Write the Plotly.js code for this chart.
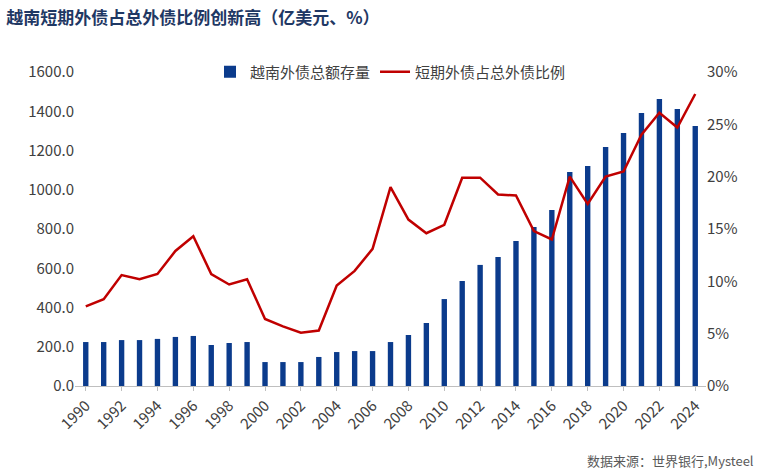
<!DOCTYPE html>
<html><head><meta charset="utf-8">
<script src="https://cdn.plot.ly/plotly-3.0.1.min.js"></script>
<style>body{margin:0}</style></head>
<body><div id="chart" style="width:768px;height:472px"></div>
<script>
// data
var years = [];
for (var y = 1990; y <= 2024; y++) years.push(y);
var debtTotal = [224, 224, 234, 234, 240, 250, 255, 209, 219, 224,
  122, 122, 122, 148, 173, 178, 178, 224, 260, 321,
  443, 535, 617, 657, 739, 810, 897, 1090, 1121, 1218,
  1289, 1391, 1462, 1411, 1325];
var shortRatio = [7.6, 8.3, 10.6, 10.2, 10.7, 12.9, 14.3, 10.7, 9.7, 10.2,
  6.4, 5.7, 5.1, 5.3, 9.6, 11.0, 13.1, 19.0, 15.9, 14.6,
  15.4, 19.9, 19.9, 18.3, 18.2, 14.8, 14.0, 20.0, 17.4, 20.0,
  20.5, 24.0, 26.1, 24.7, 27.9];
var tickYears = years.filter(function (v) { return v % 2 == 0; });

var font = 'Noto Sans CJK SC, DejaVu Sans';

var bars = {
  x: years, y: debtTotal, type: 'bar', name: '越南外债总额存量',
  marker: {color: '#0b3b8c'}, width: 0.3
};
var line = {
  x: years, y: shortRatio, type: 'scatter', mode: 'lines', yaxis: 'y2',
  name: '短期外债占总外债比例', line: {color: '#c00000', width: 2.5}
};

var layout = {
  width: 768, height: 472,
  margin: {l: 75, r: 62, t: 72, b: 86},
  font: {family: font, size: 15, color: '#404040'},
  title: {text: '<b>越南短期外债占总外债比例创新高（亿美元、%）</b>', x: 0.008, xanchor: 'left', y: 0.975,
    font: {size: 17, color: '#1f3864'}},
  showlegend: true,
  legend: {orientation: 'h', x: 0.5, xanchor: 'center', y: 1.0, yanchor: 'middle', font: {size: 15}},
  xaxis: {tickmode: 'array', tickvals: tickYears, tickangle: -45, range: [1989.4, 2024.6],
    showline: true, linecolor: '#bfbfbf', ticks: 'outside', ticklen: 4, tickcolor: '#bfbfbf', showgrid: false},
  yaxis: {range: [0, 1600], dtick: 200, tickformat: '.1f', showgrid: false, zeroline: false},
  yaxis2: {overlaying: 'y', side: 'right', range: [0, 30], dtick: 5, ticksuffix: '%', showgrid: false, zeroline: false},
  annotations: [{text: '数据来源：世界银行,Mysteel', xref: 'paper', yref: 'paper', x: 1.08, xanchor: 'right',
    y: -0.2, yanchor: 'top', showarrow: false, font: {size: 13, color: '#595959'}}]
};
Plotly.newPlot('chart', [bars, line], layout, {displayModeBar: false});
</script></body></html>
